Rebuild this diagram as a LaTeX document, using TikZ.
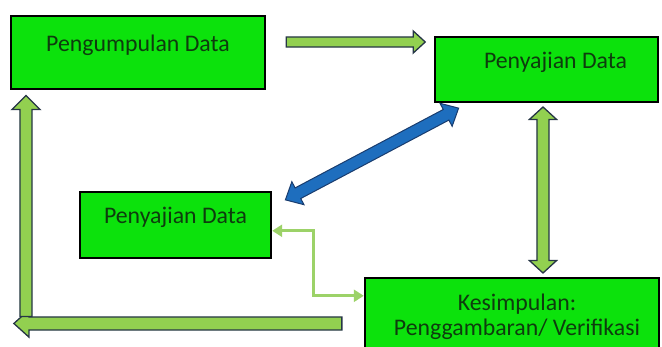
\documentclass[tikz,border=0pt]{standalone}
\usepackage{fontspec}
\setmainfont{Carlito}
\usetikzlibrary{shapes.arrows,arrows.meta}
\definecolor{boxgreen}{RGB}{12,226,12}
\definecolor{textgreen}{RGB}{14,60,14}
\definecolor{arrowgreen}{RGB}{146,208,80}
\definecolor{arrowline}{RGB}{38,54,70}
\definecolor{arrowblue}{RGB}{30,110,190}
\definecolor{blueline}{RGB}{25,60,110}
\definecolor{linkgreen}{RGB}{156,210,104}
\tikzset{
    green-box/.style = {draw=black, fill=boxgreen, line width=2.4pt, rectangle, inner sep=0pt},
    box-text/.style = {text=textgreen, font=\fontsize{23.8}{28}\selectfont, anchor=base, inner sep=0pt},
    block-arrow/.style = {single arrow, draw=arrowline, fill=arrowgreen, line width=1.3pt, inner xsep=0pt, single arrow head indent=0pt},
    both-arrow/.style = {double arrow, draw=arrowline, fill=arrowgreen, line width=1.3pt, inner xsep=0pt},
    link/.style = {draw=linkgreen, line width=2.8pt, {Triangle[length=10pt,width=12pt]}-{Triangle[length=10pt,width=12pt]}},
}

\begin{document}
\begin{tikzpicture}[x=1pt, y=-1pt]
\useasboundingbox (0,0) rectangle (662,347);
% the four steps
\node[green-box, minimum width=254pt, minimum height=73pt] (collect) at (138,52.5) {};
\node[green-box, minimum width=223pt, minimum height=65pt] (present) at (546.5,69.5) {};
\node[green-box, minimum width=191pt, minimum height=66pt] (reduce) at (175.5,225) {};
\node[green-box, minimum width=294pt, minimum height=90pt] (conclude) at (512,323) {};
\node[box-text] (collect-text) at ([yshift=-37pt]collect.north) {Pengumpulan Data};
\node[box-text] (present-text) at ([xshift=9pt,yshift=-33pt]present.north) {Penyajian Data};
\node[box-text] (reduce-text) at ([yshift=-33pt]reduce.north) {Penyajian Data};
\node[box-text] (conclude-title) at ([xshift=5pt,yshift=-34pt]conclude.north) {Kesimpulan:};
\node[box-text] (conclude-text) at ([xshift=5pt,yshift=-59pt]conclude.north) {Penggambaran/ Verifikasi};
% block arrows
\node[block-arrow, inner ysep=4.4pt, minimum height=139pt, single arrow head extend=6pt, single arrow tip angle=85] (to-present) at (353,42) {};
\node[both-arrow, rotate=90, inner ysep=5.4pt, minimum height=166pt, double arrow head extend=7.5pt, double arrow tip angle=95] (present-conclude) at (543,190) {};
\node[block-arrow, rotate=180, inner ysep=5.9pt, minimum height=328pt, single arrow head extend=7pt, single arrow tip angle=84] (back-left) at (181.5,323.5) {};
\node[block-arrow, rotate=90, inner ysep=5.4pt, minimum height=221pt, single arrow head extend=8pt, single arrow tip angle=90] (back-up) at (26,209) {};
\node[both-arrow, draw=blueline, fill=arrowblue, line width=1pt, rotate=27.9, inner ysep=5.5pt, minimum height=196pt, double arrow head extend=7pt, double arrow tip angle=85] (present-reduce) at (372,154) {};
% thin link
\draw[link] ([yshift=-19pt]conclude.north west) -- ++(-50,0) |- ([yshift=-40pt]reduce.north east);
\end{tikzpicture}
\end{document}
